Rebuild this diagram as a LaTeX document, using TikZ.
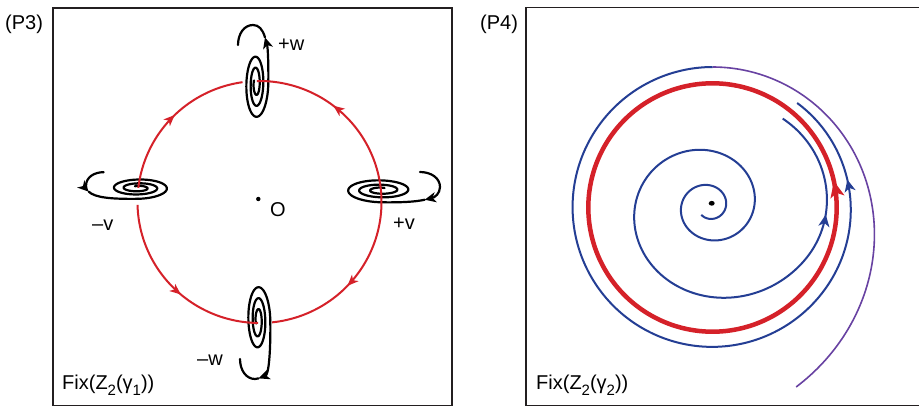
\documentclass[tikz,border=0pt]{standalone}
\usepackage{fontspec}
\setmainfont{Liberation Sans}
\usetikzlibrary{arrows.meta,decorations.markings}
\definecolor{pred}{RGB}{213,33,41}
\definecolor{pblue}{RGB}{36,62,148}
\definecolor{ppurple}{RGB}{104,66,162}
\definecolor{pframe}{RGB}{35,31,32}
\newcommand{\subtxt}[1]{\raisebox{-0.3em}{\fontsize{15}{15}\selectfont #1}}
% spiral with its outer tail; the tail is split at parameter #1 of its first
% Bezier piece, #2 = options of the first part, #3 = options of the rest
\newcommand{\myspiral}[3]{%
  \draw[spiralline] plot[domain=150:1080, samples=240, variable=\t]
     ({(1.5+1.5*\t/360+0.7*(\t/360)^2)*cos(\t)}, {(2.5+11*\t/360)*sin(\t)});
  \pgfmathsetmacro\qS{#1}%
  \pgfmathsetmacro\qAx{12.3+\qS*0.5}\pgfmathsetmacro\qAy{\qS*38}%
  \pgfmathsetmacro\qBx{12.8-2.8*\qS}\pgfmathsetmacro\qBy{38+21*\qS}%
  \pgfmathsetmacro\qCx{10-13*\qS}\pgfmathsetmacro\qCy{59}%
  \pgfmathsetmacro\qDx{\qAx+\qS*(\qBx-\qAx)}\pgfmathsetmacro\qDy{\qAy+\qS*(\qBy-\qAy)}%
  \pgfmathsetmacro\qEx{\qBx+\qS*(\qCx-\qBx)}\pgfmathsetmacro\qEy{\qBy+\qS*(\qCy-\qBy)}%
  \pgfmathsetmacro\qFx{\qDx+\qS*(\qEx-\qDx)}\pgfmathsetmacro\qFy{\qDy+\qS*(\qEy-\qDy)}%
  \draw[spiralline,#2] (12.3,0) .. controls (\qAx,\qAy) and (\qDx,\qDy) .. (\qFx,\qFy);
  \draw[spiralline,#3] (\qFx,\qFy) .. controls (\qEx,\qEy) and (\qCx,\qCy) .. (-3,59)
     .. controls (-12,59) and (-18,50) .. (-18,39);
}
\tikzset{
  tipblk/.tip={Stealth[length=11pt,width=10pt,inset=3pt]},
  frame/.style={pframe, line width=1.8pt},
  redpath/.style={pred, line width=2pt},
  spiralline/.style={black, line width=2.2pt, line cap=round},
  blueline/.style={pblue, line width=2pt},
  lbl/.style={inner sep=0pt, font=\fontsize{20}{24}\selectfont},
  redmark/.style={decoration={markings, mark=at position #1 with {\arrow{Stealth[length=11pt,width=9pt,inset=3pt]}}}, postaction={decorate}},
  redmarkrf/.style 2 args={decoration={markings, mark=at position #1 with {\arrowreversed{Stealth[length=11pt,width=9pt,inset=3pt]}}, mark=at position #2 with {\arrow{Stealth[length=11pt,width=9pt,inset=3pt]}}}, postaction={decorate}},
  bluemark/.style={decoration={markings, mark=at position #1 with {\arrow{Stealth[length=12pt,width=11pt,inset=3.5pt]}}}, postaction={decorate}},
  bigmark/.style={decoration={markings, mark=at position #1 with {\arrow{Stealth[length=16pt,width=14pt,inset=4pt]}}}, postaction={decorate}},
}
\begin{document}
\begin{tikzpicture}[x=1pt,y=-1pt,
  declare function={
    rin(\t)=(\t<690)*17*exp(0.245*\t/90)+(\t>=690)*(111.2+0.302*max(\t-690,0)-0.00282*max(\t-690,0)^2);
    rout(\t)=140.5-1.5*(\t-90)/240-4*(max(\t-330,0)/81)^2;
    rpur(\t)=140.5+57.5*((90-\t)/155)^2;
  }]
\useasboundingbox (0,0) rectangle (919,407);
\fill[white] (0,0) rectangle (919,407);

% ---------------- panel P3 ----------------
\draw[frame] (53,8) rectangle (452,405.5);
\node[lbl, anchor=base west] (p3) at (5,29.5) {(P3)};

% spirals
\begin{scope}[shift={(256,84)}, yscale=-1]
  \myspiral{0.55}{-{tipblk}}{}
\end{scope}
\begin{scope}[shift={(258,320)}]
  \myspiral{0.9}{-{tipblk}}{}
\end{scope}
\begin{scope}[shift={(381,190)}, rotate=-90, yscale=-1]
  \myspiral{0.5}{}{{tipblk}-}
\end{scope}
\begin{scope}[shift={(138,188)}, xscale=-1, rotate=-90, yscale=-1, scale=0.88]
  \myspiral{0.78}{}{{tipblk}-}
\end{scope}

% red heteroclinic arcs
\draw[redpath, redmark=0.52] plot[domain=173.3:98, samples=60, variable=\t]
   ({259.5+122*cos(\t)}, {202-121*sin(\t)});
\draw[redpath, redmarkrf={0.22}{0.77}] plot[domain=91.2:-84.1, samples=140, variable=\t]
   ({259.5+122*cos(\t)}, {202-121*sin(\t)});
\draw[redpath, redmark=0.55] plot[domain=181.4:269.3, samples=70, variable=\t]
   ({259.5+122*cos(\t)}, {202-121*sin(\t)});

\fill (258.3,199) circle (2.2);
\node[lbl, anchor=base west] (lo) at (270,216) {O};
\node[lbl, anchor=base west] (lpw) at (278,50) {+w};
\node[lbl, anchor=base west] (lmv) at (92,230) {–v};
\node[lbl, anchor=base west] (lpv) at (393,229) {+v};
\node[lbl, anchor=base west] (lmw) at (197,365) {–w};
\node[lbl, anchor=base west] (fix1) at (62,389) {Fix(Z\subtxt{2}(γ\subtxt{1}))};

% ---------------- panel P4 ----------------
\draw[frame] (919,7.5) -- (526,7.5) -- (526,405.5) -- (919,405.5);
\node[lbl, anchor=base west] (p4) at (480,29.5) {(P4)};

% incoming trajectory from outside
\draw[ppurple, line width=1.6pt] plot[domain=-65:90, samples=120, variable=\t]
   ({712.5+rpur(\t)*cos(\t)}, {207.5-rpur(\t)*sin(\t)});
\draw[blueline, bluemark=0.88] plot[domain=90:411, samples=220, variable=\t]
   ({712.5+rout(\t)*cos(\t)}, {207.5-rout(\t)*sin(\t)});
% inner spiral
\draw[blueline, bluemark=0.86] plot[domain=-130:771, samples=500, variable=\t]
   ({709+rin(\t)*cos(\t)}, {206-0.96*rin(\t)*sin(\t)});
% limit cycle
\draw[pred, line width=4.5pt, bigmark=0.034] plot[domain=0:360, samples=241, variable=\t]
   ({712.5+124.2*cos(\t)}, {207.5-124.2*sin(\t)}) -- cycle;

\fill (711.7,203.3) ellipse (3 and 2.4);
\node[lbl, anchor=base west] (fix2) at (536,389) {Fix(Z\subtxt{2}(γ\subtxt{2}))};
\end{tikzpicture}
\end{document}
